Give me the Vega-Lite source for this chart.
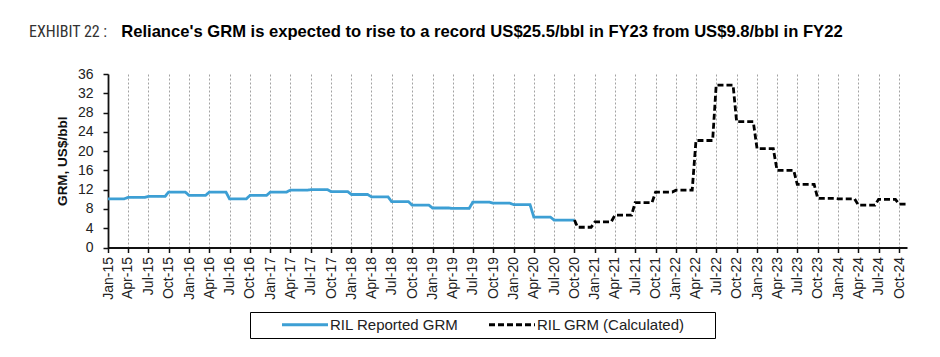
{
  "$schema": "https://vega.github.io/schema/vega-lite/v6.json",
  "width": 799,
  "height": 173.5,
  "autosize": {"type": "none"},
  "padding": {"left": 108, "top": 74, "right": 33, "bottom": 110},
  "background": "white",
  "title": {
    "text": "EXHIBIT 22 :",
    "subtitle": "\u200b\u00a0\u00a0\u00a0\u00a0\u00a0\u00a0\u00a0\u00a0\u00a0\u00a0\u00a0\u00a0\u00a0\u00a0\u00a0\u00a0\u00a0\u00a0\u00a0\u00a0Reliance's GRM is expected to rise to a record US$25.5/bbl in FY23 from US$9.8/bbl in FY22",
    "anchor": "start",
    "frame": "group",
    "dx": -79,
    "offset": 26,
    "font": "Roboto Condensed, Liberation Sans",
    "fontSize": 16,
    "fontWeight": "normal",
    "color": "#333333",
    "subtitleFont": "Liberation Sans",
    "subtitleFontSize": 16.6,
    "subtitleFontWeight": "bold",
    "subtitleColor": "#000000",
    "subtitlePadding": -16.5
  },
  "data": {
    "values": [
      {"date": "2015-01-01", "grm": 10.1, "series": "RIL Reported GRM"},
      {"date": "2015-03-15", "grm": 10.1, "series": "RIL Reported GRM"},
      {"date": "2015-04-01", "grm": 10.4, "series": "RIL Reported GRM"},
      {"date": "2015-06-15", "grm": 10.4, "series": "RIL Reported GRM"},
      {"date": "2015-07-01", "grm": 10.6, "series": "RIL Reported GRM"},
      {"date": "2015-09-15", "grm": 10.6, "series": "RIL Reported GRM"},
      {"date": "2015-10-01", "grm": 11.5, "series": "RIL Reported GRM"},
      {"date": "2015-12-15", "grm": 11.5, "series": "RIL Reported GRM"},
      {"date": "2016-01-01", "grm": 10.8, "series": "RIL Reported GRM"},
      {"date": "2016-03-15", "grm": 10.8, "series": "RIL Reported GRM"},
      {"date": "2016-04-01", "grm": 11.5, "series": "RIL Reported GRM"},
      {"date": "2016-06-15", "grm": 11.5, "series": "RIL Reported GRM"},
      {"date": "2016-07-01", "grm": 10.1, "series": "RIL Reported GRM"},
      {"date": "2016-09-15", "grm": 10.1, "series": "RIL Reported GRM"},
      {"date": "2016-10-01", "grm": 10.8, "series": "RIL Reported GRM"},
      {"date": "2016-12-15", "grm": 10.8, "series": "RIL Reported GRM"},
      {"date": "2017-01-01", "grm": 11.5, "series": "RIL Reported GRM"},
      {"date": "2017-03-15", "grm": 11.5, "series": "RIL Reported GRM"},
      {"date": "2017-04-01", "grm": 11.9, "series": "RIL Reported GRM"},
      {"date": "2017-06-15", "grm": 11.9, "series": "RIL Reported GRM"},
      {"date": "2017-07-01", "grm": 12.0, "series": "RIL Reported GRM"},
      {"date": "2017-09-15", "grm": 12.0, "series": "RIL Reported GRM"},
      {"date": "2017-10-01", "grm": 11.6, "series": "RIL Reported GRM"},
      {"date": "2017-12-15", "grm": 11.6, "series": "RIL Reported GRM"},
      {"date": "2018-01-01", "grm": 11.0, "series": "RIL Reported GRM"},
      {"date": "2018-03-15", "grm": 11.0, "series": "RIL Reported GRM"},
      {"date": "2018-04-01", "grm": 10.5, "series": "RIL Reported GRM"},
      {"date": "2018-06-15", "grm": 10.5, "series": "RIL Reported GRM"},
      {"date": "2018-07-01", "grm": 9.5, "series": "RIL Reported GRM"},
      {"date": "2018-09-15", "grm": 9.5, "series": "RIL Reported GRM"},
      {"date": "2018-10-01", "grm": 8.8, "series": "RIL Reported GRM"},
      {"date": "2018-12-15", "grm": 8.8, "series": "RIL Reported GRM"},
      {"date": "2019-01-01", "grm": 8.2, "series": "RIL Reported GRM"},
      {"date": "2019-03-15", "grm": 8.2, "series": "RIL Reported GRM"},
      {"date": "2019-04-01", "grm": 8.1, "series": "RIL Reported GRM"},
      {"date": "2019-06-15", "grm": 8.1, "series": "RIL Reported GRM"},
      {"date": "2019-07-01", "grm": 9.4, "series": "RIL Reported GRM"},
      {"date": "2019-09-15", "grm": 9.4, "series": "RIL Reported GRM"},
      {"date": "2019-10-01", "grm": 9.2, "series": "RIL Reported GRM"},
      {"date": "2019-12-15", "grm": 9.2, "series": "RIL Reported GRM"},
      {"date": "2020-01-01", "grm": 8.9, "series": "RIL Reported GRM"},
      {"date": "2020-03-15", "grm": 8.9, "series": "RIL Reported GRM"},
      {"date": "2020-04-01", "grm": 6.3, "series": "RIL Reported GRM"},
      {"date": "2020-06-15", "grm": 6.3, "series": "RIL Reported GRM"},
      {"date": "2020-07-01", "grm": 5.7, "series": "RIL Reported GRM"},
      {"date": "2020-10-01", "grm": 5.7, "series": "RIL Reported GRM"},
      {"date": "2020-10-01", "grm": 5.7, "series": "RIL GRM (Calculated)"},
      {"date": "2020-10-15", "grm": 4.2, "series": "RIL GRM (Calculated)"},
      {"date": "2020-12-15", "grm": 4.2, "series": "RIL GRM (Calculated)"},
      {"date": "2021-01-01", "grm": 5.3, "series": "RIL GRM (Calculated)"},
      {"date": "2021-03-15", "grm": 5.3, "series": "RIL GRM (Calculated)"},
      {"date": "2021-04-01", "grm": 6.7, "series": "RIL GRM (Calculated)"},
      {"date": "2021-06-15", "grm": 6.7, "series": "RIL GRM (Calculated)"},
      {"date": "2021-07-01", "grm": 9.3, "series": "RIL GRM (Calculated)"},
      {"date": "2021-09-15", "grm": 9.3, "series": "RIL GRM (Calculated)"},
      {"date": "2021-10-01", "grm": 11.5, "series": "RIL GRM (Calculated)"},
      {"date": "2021-12-15", "grm": 11.5, "series": "RIL GRM (Calculated)"},
      {"date": "2022-01-01", "grm": 11.9, "series": "RIL GRM (Calculated)"},
      {"date": "2022-03-15", "grm": 11.9, "series": "RIL GRM (Calculated)"},
      {"date": "2022-04-01", "grm": 22.2, "series": "RIL GRM (Calculated)"},
      {"date": "2022-06-15", "grm": 22.2, "series": "RIL GRM (Calculated)"},
      {"date": "2022-07-01", "grm": 33.7, "series": "RIL GRM (Calculated)"},
      {"date": "2022-09-15", "grm": 33.7, "series": "RIL GRM (Calculated)"},
      {"date": "2022-10-01", "grm": 26.1, "series": "RIL GRM (Calculated)"},
      {"date": "2022-12-15", "grm": 26.1, "series": "RIL GRM (Calculated)"},
      {"date": "2023-01-01", "grm": 20.5, "series": "RIL GRM (Calculated)"},
      {"date": "2023-03-15", "grm": 20.5, "series": "RIL GRM (Calculated)"},
      {"date": "2023-04-01", "grm": 16.0, "series": "RIL GRM (Calculated)"},
      {"date": "2023-06-15", "grm": 16.0, "series": "RIL GRM (Calculated)"},
      {"date": "2023-07-01", "grm": 13.1, "series": "RIL GRM (Calculated)"},
      {"date": "2023-09-15", "grm": 13.1, "series": "RIL GRM (Calculated)"},
      {"date": "2023-10-01", "grm": 10.2, "series": "RIL GRM (Calculated)"},
      {"date": "2023-12-15", "grm": 10.2, "series": "RIL GRM (Calculated)"},
      {"date": "2024-01-01", "grm": 10.1, "series": "RIL GRM (Calculated)"},
      {"date": "2024-03-15", "grm": 10.1, "series": "RIL GRM (Calculated)"},
      {"date": "2024-04-01", "grm": 8.8, "series": "RIL GRM (Calculated)"},
      {"date": "2024-06-15", "grm": 8.8, "series": "RIL GRM (Calculated)"},
      {"date": "2024-07-01", "grm": 10.0, "series": "RIL GRM (Calculated)"},
      {"date": "2024-09-15", "grm": 10.0, "series": "RIL GRM (Calculated)"},
      {"date": "2024-10-01", "grm": 9.0, "series": "RIL GRM (Calculated)"},
      {"date": "2024-11-05", "grm": 9.0, "series": "RIL GRM (Calculated)"}
    ]
  },
  "mark": {"type": "line", "strokeWidth": 2.8, "interpolate": "linear"},
  "encoding": {
    "x": {
      "field": "date",
      "type": "temporal",
      "scale": {
        "type": "utc",
        "domain": [
          {"year": 2015, "month": 1, "date": 1, "utc": true},
          {"year": 2024, "month": 11, "date": 6, "utc": true}
        ]
      },
      "axis": {
        "title": null,
        "labelExpr": "utcFormat(datum.value, '%b-%y')",
        "tickCount": {"interval": "month", "step": 3},
        "labelAngle": -90,
        "labelFont": "Liberation Sans",
        "labelFontSize": 14,
        "labelColor": "#222222",
        "labelPadding": 4,
        "labelOverlap": false,
        "labelFlush": false,
        "grid": true,
        "gridDash": [2, 2],
        "gridColor": "#8a8a8a",
        "gridWidth": 0.8,
        "domainColor": "#111111",
        "domainWidth": 1.8,
        "tickColor": "#111111",
        "tickWidth": 1.5,
        "tickSize": 5
      }
    },
    "y": {
      "field": "grm",
      "type": "quantitative",
      "scale": {"domain": [0, 36]},
      "axis": {
        "title": "GRM, US$/bbl",
        "titleFont": "Liberation Sans",
        "titleFontSize": 13.5,
        "titleFontWeight": "bold",
        "titleColor": "#111111",
        "titlePadding": 8,
        "values": [0, 4, 8, 12, 16, 20, 24, 28, 32, 36],
        "labelFont": "Liberation Sans",
        "labelFontSize": 14,
        "labelColor": "#222222",
        "labelPadding": 10,
        "grid": false,
        "domainColor": "#111111",
        "domainWidth": 1.8,
        "tickColor": "#111111",
        "tickWidth": 1.5,
        "tickSize": 5
      }
    },
    "color": {
      "field": "series",
      "type": "nominal",
      "scale": {
        "domain": ["RIL Reported GRM", "RIL GRM (Calculated)"],
        "range": ["#3d9fd4", "#000000"]
      },
      "legend": {
        "title": null,
        "orient": "none",
        "legendX": 142,
        "legendY": 238,
        "direction": "horizontal",
        "strokeColor": "#000000",
        "padding": 5,
        "symbolType": "M0,0H7.667",
        "symbolSize": 144,
        "symbolStrokeWidth": 3,
        "symbolOffset": 19.5,
        "labelFont": "Liberation Sans",
        "labelFontSize": 15,
        "labelColor": "#222222",
        "labelOffset": 40.5,
        "labelLimit": 400,
        "columnPadding": 3,
        "labelExpr": "datum.label == 'RIL GRM (Calculated)' ? datum.label + '\u00a0\u00a0\u00a0\u00a0\u00a0\u00a0\u200b' : datum.label"
      }
    },
    "strokeDash": {
      "field": "series",
      "type": "nominal",
      "scale": {
        "domain": ["RIL Reported GRM", "RIL GRM (Calculated)"],
        "range": [[1, 0], [6, 3]]
      },
      "legend": null
    }
  },
  "config": {
    "view": {"stroke": null}
  }
}
